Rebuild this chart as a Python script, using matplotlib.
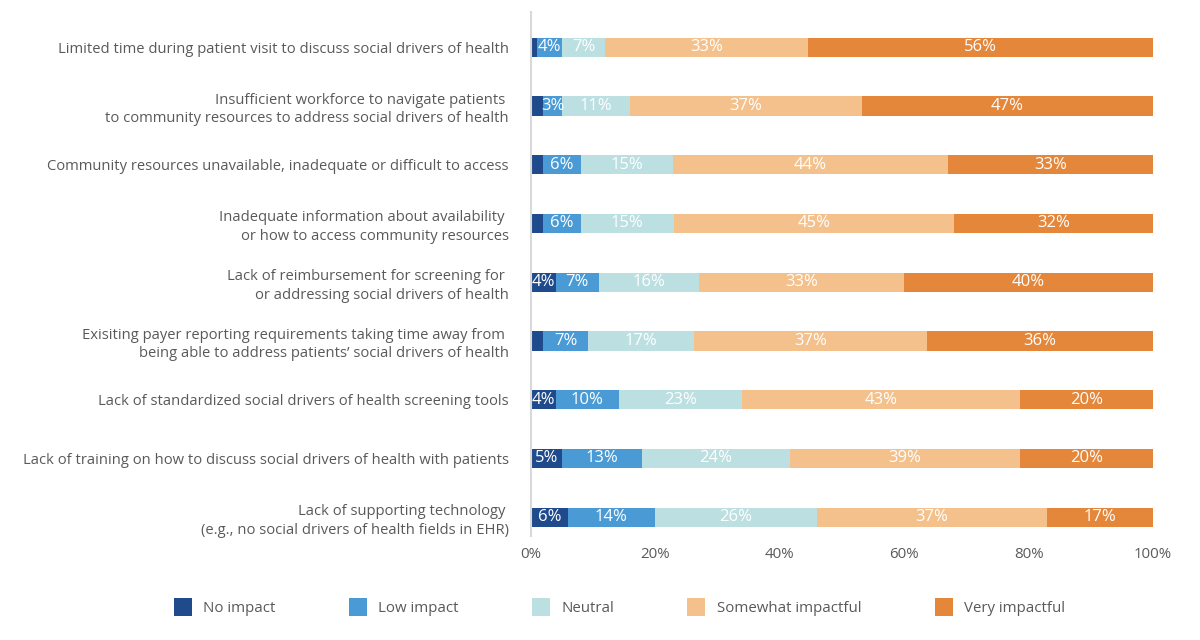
import matplotlib.pyplot as plt
import numpy as np

plt.rcParams['font.family'] = ['Open Sans', 'DejaVu Sans']

barriers = [
    'Limited time during patient visit to discuss social drivers of health',
    'Insufficient workforce to navigate patients \nto community resources to address social drivers of health',
    'Community resources unavailable, inadequate or difficult to access',
    'Inadequate information about availability \nor how to access community resources',
    'Lack of reimbursement for screening for \nor addressing social drivers of health',
    'Exisiting payer reporting requirements taking time away from \nbeing able to address patients\u2019 social drivers of health',
    'Lack of standardized social drivers of health screening tools',
    'Lack of training on how to discuss social drivers of health with patients',
    'Lack of supporting technology \n(e.g., no social drivers of health fields in EHR)',
]

categories = ['No impact', 'Low impact', 'Neutral', 'Somewhat impactful', 'Very impactful']

# segment widths as drawn (percent of respondents)
no_impact = [1.0, 1.9, 1.9, 1.9, 4.0, 1.9, 4.0, 5.0, 5.9]
low_impact = [4.0, 3.1, 6.1, 6.1, 6.9, 7.3, 10.1, 12.8, 14.0]
neutral = [6.9, 10.9, 14.8, 15.0, 16.1, 17.0, 19.9, 23.8, 26.1]
somewhat = [32.6, 37.3, 44.2, 45.0, 33.0, 37.5, 44.6, 37.0, 37.0]
very = [55.5, 46.8, 33.0, 32.0, 40.0, 36.3, 21.4, 21.4, 17.0]

# printed labels
no_impact_lbl = ['', '', '', '', '4%', '', '4%', '5%', '6%']
low_impact_lbl = ['4%', '3%', '6%', '6%', '7%', '7%', '10%', '13%', '14%']
neutral_lbl = ['7%', '11%', '15%', '15%', '16%', '17%', '23%', '24%', '26%']
somewhat_lbl = ['33%', '37%', '44%', '45%', '33%', '37%', '43%', '39%', '37%']
very_lbl = ['56%', '47%', '33%', '32%', '40%', '36%', '20%', '20%', '17%']

colors = ['#1f4b8c', '#4a9bd5', '#bcdfe1', '#f4c18c', '#e5873b']
grey = '#595959'

series = [no_impact, low_impact, neutral, somewhat, very]
labels = [no_impact_lbl, low_impact_lbl, neutral_lbl, somewhat_lbl, very_lbl]

fig = plt.figure(figsize=(12, 6.4), dpi=100)
ax = fig.add_axes([0.4425, 0.1625, 0.5183, 0.8188])

y = np.arange(len(barriers))
left = np.zeros(len(barriers))
for name, vals, lbls, c in zip(categories, series, labels, colors):
    bars = ax.barh(y, vals, left=left, height=0.33, color=c, label=name)
    ax.bar_label(bars, labels=lbls, label_type='center', color='white', fontsize=12)
    left += np.array(vals)

ax.set_xlim(0, 100)
ax.set_ylim(8.32, -0.6)
ax.set_yticks(y)
ax.set_yticklabels(barriers, fontsize=10.6, color=grey, linespacing=1.3)
ax.set_xticks(np.arange(0, 101, 20))
ax.set_xticklabels([f'{v}%' for v in range(0, 101, 20)], fontsize=10.8, color=grey)
ax.tick_params(length=0)
ax.tick_params(axis='y', pad=16)
ax.tick_params(axis='x', pad=8)
for s in ['top', 'right', 'bottom']:
    ax.spines[s].set_visible(False)
ax.spines['left'].set_color('#d9d9d9')
ax.spines['left'].set_linewidth(1.5)

leg = fig.legend(loc='center', bbox_to_anchor=(0.516, 0.052), ncol=5, frameon=False,
                 fontsize=10.8, handlelength=1.2, handleheight=1.45,
                 handletextpad=0.75, columnspacing=4.9)
for t in leg.get_texts():
    t.set_color(grey)

fig.savefig('out.png', dpi=100)
